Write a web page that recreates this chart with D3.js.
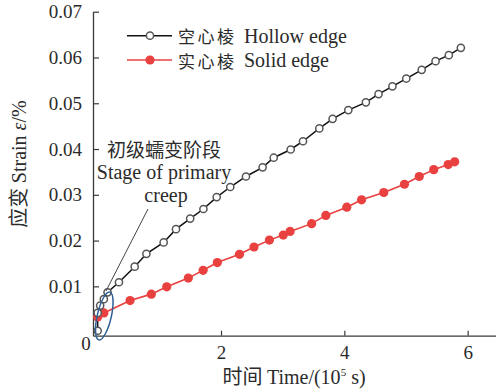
<!DOCTYPE html>
<html><head><meta charset="utf-8">
<script src="https://cdn.jsdelivr.net/npm/d3@7"></script>
<style>html,body{margin:0;padding:0;background:#fff;}svg{display:block;}
.serif{font-family:"Liberation Serif","Times New Roman",serif;}
.cjk{font-family:"Noto Sans CJK SC",sans-serif;}
</style>
</head><body>
<svg id="chart" width="496" height="392"></svg>
<script>
// Data (time in 10^5 s, strain in %)
const hollowTime = [0, 0, 0.04, 0.10, 0.16, 0.345, 0.60, 0.79, 1.07, 1.27, 1.50, 1.715, 1.93, 2.15, 2.405, 2.675, 2.855, 3.13, 3.33, 3.595, 3.81, 4.065, 4.35, 4.555, 4.78, 5.005, 5.255, 5.48, 5.695, 5.89];
const hollowStrain = [0.0003, 0.0042, 0.0058, 0.0072, 0.0087, 0.0109, 0.0143, 0.0171, 0.0196, 0.0225, 0.0248, 0.0269, 0.0295, 0.0317, 0.0340, 0.0360, 0.0381, 0.0399, 0.0417, 0.0445, 0.0466, 0.0485, 0.0502, 0.0520, 0.0537, 0.0554, 0.0573, 0.0592, 0.0605, 0.0621];
const solidTime = [0, 0.10, 0.525, 0.87, 1.12, 1.47, 1.71, 1.94, 2.30, 2.535, 2.785, 3.01, 3.12, 3.47, 3.70, 4.04, 4.28, 4.64, 4.975, 5.215, 5.45, 5.685, 5.79];
const solidStrain = [0.0033, 0.0042, 0.0069, 0.0083, 0.0099, 0.0118, 0.0135, 0.0152, 0.0170, 0.0186, 0.0201, 0.0212, 0.0220, 0.0237, 0.0255, 0.0273, 0.0289, 0.0305, 0.0323, 0.0340, 0.0355, 0.0366, 0.0372];
const xTicks = [2, 4, 6];
const yTicks = [0.01, 0.02, 0.03, 0.04, 0.05, 0.06, 0.07];
const seriesNamesZh = ["空心棱", "实心棱"];
const seriesNamesEn = ["Hollow edge", "Solid edge"];
const annotationLines = ["初级蠕变阶段", "Stage of primary", "creep"];

const svg = d3.select("#chart");
const textColor = "#2b2b2b";
const axisColor = "#3a3a3a";
const redColor = "#e8413f";

const x = d3.scaleLinear().domain([-0.076, 6.46]).range([93, 496]);
const y = d3.scaleLinear().domain([-0.00078, 0.07]).range([335.7, 11.7]);

// axes
const xAxis = d3.axisBottom(x).tickValues(xTicks).tickSizeInner(-5).tickSizeOuter(0).tickPadding(10).tickFormat(d3.format("d"));
const gx = svg.append("g").attr("transform", `translate(0,${y.range()[0]})`).call(xAxis);
const yAxis = d3.axisLeft(y).tickValues(yTicks).tickSizeInner(-6).tickSizeOuter(0).tickPadding(11).tickFormat(d3.format(".2f"));
const gy = svg.append("g").attr("transform", `translate(${x.range()[0]},0)`).call(yAxis);
[gx, gy].forEach(g => {
  g.attr("font-family", null).attr("font-size", null);
  g.select(".domain").attr("stroke", axisColor).attr("stroke-width", 1.3);
  g.selectAll(".tick line").attr("stroke", axisColor).attr("stroke-width", 1.2);
  g.selectAll(".tick text").attr("class", "serif").attr("fill", textColor).style("font-size", "19px");
});
gx.selectAll(".tick text").attr("dy", "0.72em");
// origin label
svg.append("text").attr("class", "serif").attr("x", 86).attr("y", 350).attr("text-anchor", "middle")
  .style("font-size", "19px").attr("fill", textColor).text("0");

// axis titles
const xt = svg.append("text").attr("x", 294).attr("y", 384).attr("text-anchor", "middle")
  .style("font-size", "20px").attr("fill", textColor);
xt.append("tspan").attr("class", "cjk").text("时间 ");
xt.append("tspan").attr("class", "serif").text("Time/(10");
xt.append("tspan").attr("class", "serif").style("font-size", "11px").attr("dy", -8).text("5");
xt.append("tspan").attr("class", "serif").attr("dy", 8).text(" s)");

const yt = svg.append("text").attr("transform", "translate(26,164) rotate(-90)").attr("text-anchor", "middle")
  .style("font-size", "20px").attr("fill", textColor);
yt.append("tspan").attr("class", "cjk").text("应变 ");
yt.append("tspan").attr("class", "serif").text("Strain ");
yt.append("tspan").attr("class", "serif").style("font-style", "italic").text("ε");
yt.append("tspan").attr("class", "serif").text("/%");

// lines
const hollow = hollowTime.map((t, i) => [t, hollowStrain[i]]);
const solid = solidTime.map((t, i) => [t, solidStrain[i]]);
const line = d3.line().x(d => x(d[0])).y(d => y(d[1]));

svg.append("path").datum(solid).attr("d", line).attr("fill", "none").attr("stroke", redColor).attr("stroke-width", 1.6);
svg.append("path").datum(hollow).attr("d", line).attr("fill", "none").attr("stroke", "#111").attr("stroke-width", 1.5);

svg.append("g").selectAll("circle").data(solid).join("circle")
  .attr("cx", d => x(d[0])).attr("cy", d => y(d[1])).attr("r", 4.6).attr("fill", redColor);
svg.append("g").selectAll("circle").data(hollow).join("circle")
  .attr("cx", d => x(d[0])).attr("cy", d => y(d[1])).attr("r", 3.6)
  .attr("fill", "#fff").attr("stroke", "#555").attr("stroke-width", 1.5);

// annotation
svg.append("line").attr("x1", 148).attr("y1", 209).attr("x2", 106).attr("y2", 291)
  .attr("stroke", "#444").attr("stroke-width", 1);
svg.append("ellipse").attr("cx", 0).attr("cy", 0).attr("rx", 7).attr("ry", 24.5)
  .attr("transform", "translate(104.3,316) rotate(13)")
  .attr("fill", "none").attr("stroke", "#2f5f95").attr("stroke-width", 1.5);
const annY = [157, 179, 202];
annotationLines.forEach((s, i) => {
  svg.append("text").attr("class", i === 0 ? "cjk" : "serif")
    .attr("x", i === 2 ? 166 : 164).attr("y", annY[i]).attr("text-anchor", "middle")
    .style("font-size", i === 0 ? "19px" : "20px")
    .attr("fill", textColor).text(s);
});

// legend
const legY = [35.7, 60];
const zhBase = [42.5, 67.8];
seriesNamesZh.forEach((zh, i) => {
  const g = svg.append("g");
  g.append("line").attr("x1", 127).attr("x2", 172).attr("y1", legY[i]).attr("y2", legY[i])
    .attr("stroke", i === 0 ? "#111" : redColor).attr("stroke-width", 1.5);
  if (i === 0) {
    g.append("circle").attr("cx", 150).attr("cy", legY[i]).attr("r", 3.6)
      .attr("fill", "#fff").attr("stroke", "#555").attr("stroke-width", 1.5);
  } else {
    g.append("circle").attr("cx", 150).attr("cy", legY[i]).attr("r", 4.6).attr("fill", redColor);
  }
  g.append("text").attr("class", "cjk").attr("x", 178).attr("y", zhBase[i])
    .style("font-size", "17px").style("letter-spacing", "2.5px").attr("fill", textColor).text(zh);
  g.append("text").attr("class", "serif").attr("x", 244).attr("y", legY[i] + 7.3)
    .style("font-size", "20px").attr("fill", textColor).text(seriesNamesEn[i]);
});
</script>
</body></html>
